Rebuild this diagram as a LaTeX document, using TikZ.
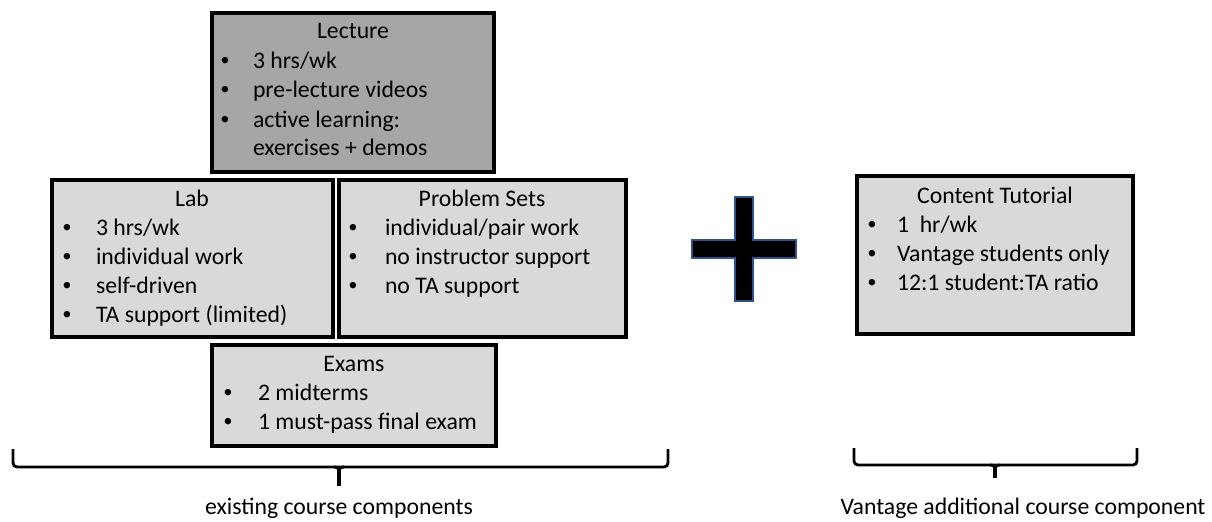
\documentclass[tikz,border=0pt]{standalone}
\usepackage{fontspec}
\setmainfont{Carlito}
\newfontfamily\bulfont{Liberation Sans}
\usetikzlibrary{fit}
\definecolor{lecgray}{HTML}{A6A6A6}
\definecolor{boxgray}{HTML}{D9D9D9}
\definecolor{plusblue}{HTML}{2F528F}
\tikzset{
  box/.style={draw=black, line width=2.4pt, inner sep=0pt, fill=boxgray},
  lecbox/.style={box, fill=lecgray},
  txt/.style={inner sep=0pt, outer sep=0pt, font=\fontsize{17.8}{21.7}\selectfont},
  bul/.style={txt, font=\fontsize{17.8}{21.7}\bulfont},
  bracepath/.style={line width=2.1pt, rounded corners=3pt},
  stem/.style={line width=2.6pt},
  plusbar/.style={draw=plusblue, line width=1.3pt, fill=black},
}
\newcommand\itm[5]{%
  \node[bul,anchor=base] (#1b) at (#2,#4) {•};
  \node[txt,anchor=base west] (#1) at (#3,#4) {#5};}
\begin{document}
\begin{tikzpicture}[x=0.75pt,y=-0.75pt]
\useasboundingbox (0,0) rectangle (1212,521);
% boxes
\node[lecbox, fit={(212,13) (494,172)}] (lecture) {};
\node[box, fit={(52,180) (333,337)}] (lab) {};
\node[box, fit={(339,180) (626,337)}] (psets) {};
\node[box, fit={(212,345) (496,446)}] (exams) {};
\node[box, fit={(857,176) (1133,334)}] (tutorial) {};
% Lecture
\node[txt,anchor=base] (lecT) at (353,38) {Lecture};
\itm{lec1}{225}{253}{68}{3 hrs/wk}
\itm{lec2}{225}{253}{97}{pre-lecture videos}
\itm{lec3}{225}{253}{127}{active learning:}
\node[txt,anchor=base west] (lec4) at (253,155) {exercises + demos};
% Lab
\node[txt,anchor=base] (labT) at (192,206) {Lab};
\itm{lab1}{67}{96}{235}{3 hrs/wk}
\itm{lab2}{67}{96}{264}{individual work}
\itm{lab3}{67}{96}{293}{self-driven}
\itm{lab4}{67}{96}{322}{TA support (limited)}
% Problem sets
\node[txt,anchor=base] (psT) at (482,206) {Problem Sets};
\itm{ps1}{353}{385}{235}{individual/pair work}
\itm{ps2}{353}{385}{264}{no instructor support}
\itm{ps3}{353}{385}{293}{no TA support}
% Exams
\node[txt,anchor=base] (exT) at (354,371) {Exams};
\itm{ex1}{228}{258}{400}{2 midterms}
\itm{ex2}{228}{258}{429}{1 must-pass final exam}
% Content tutorial
\node[txt,anchor=base] (ctT) at (995,203) {Content Tutorial};
\itm{ct1}{872}{897}{232}{1~\ hr/wk}
\itm{ct2}{872}{897}{261}{Vantage students only}
\itm{ct3}{872}{897}{290}{12:1 student:TA ratio}
% plus sign
\path[plusbar] (735,197) -- (753,197) -- (753,240) -- (796,240) -- (796,258)
  -- (753,258) -- (753,301) -- (735,301) -- (735,258) -- (692,258) -- (692,240)
  -- (735,240) -- cycle;
\node[inner sep=0pt] (plus) at (744,249) {};
% braces
\coordinate (bLl) at (13,449);
\coordinate (bLr) at (668,449);
\coordinate (bLm) at (339,467);
\coordinate (bLt) at (339,486);
\draw[bracepath] (bLl) |- (bLm);
\draw[bracepath] (bLr) |- (bLm);
\draw[bracepath] (334,467) .. controls (338,467) and (339,469) .. (339,473);
\draw[bracepath] (344,467) .. controls (340,467) and (339,469) .. (339,473);
\draw[stem] (339,470) -- (bLt);
\coordinate (bRl) at (854,448);
\coordinate (bRr) at (1137,448);
\coordinate (bRm) at (995,465);
\coordinate (bRt) at (995,478);
\draw[bracepath] (bRl) |- (bRm);
\draw[bracepath] (bRr) |- (bRm);
\draw[bracepath] (990,465) .. controls (994,465) and (995,467) .. (995,470);
\draw[bracepath] (1000,465) .. controls (996,465) and (995,467) .. (995,470);
\draw[stem] (995,468) -- (bRt);
% labels
\node[txt,anchor=base] (lblL) at (339,514) {existing course components};
\node[txt,anchor=base] (lblR) at (1023,514) {Vantage additional course component};
\end{tikzpicture}
\end{document}
